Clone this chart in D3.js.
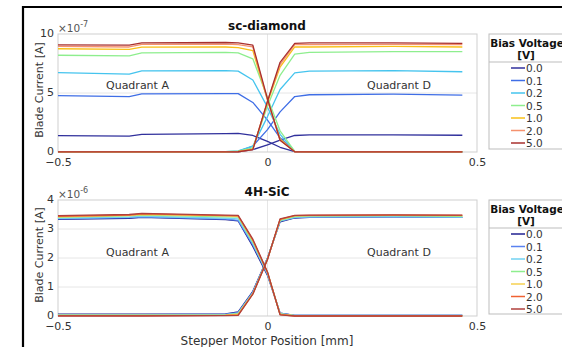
<!DOCTYPE html>
<html>
<head>
<meta charset="utf-8">
<script src="https://cdn.jsdelivr.net/npm/d3@7"></script>
<style>
  body { margin: 0; background: #fff; }
  svg { display: block; font-family: "DejaVu Sans", sans-serif; }
</style>
</head>
<body>
<div id="holder"></div>
<script>
// stepper motor positions [mm]
const positions = [-0.5, -0.33, -0.3, -0.1, -0.07, -0.035, 0, 0.03, 0.065, 0.1, 0.3, 0.465];
const voltages = ["0.0", "0.1", "0.2", "0.5", "1.0", "2.0", "5.0"];

// sc-diamond, units of 1e-7 A
const diamondA = [
  [1.38, 1.35, 1.5, 1.55, 1.58, 1.4, 0.9, 0.4, 0.03, 0.02, 0.02, 0.02],
  [4.77, 4.69, 4.92, 4.95, 4.95, 4.2, 2.7, 1.2, 0.05, 0.03, 0.03, 0.03],
  [6.72, 6.6, 6.88, 6.9, 6.85, 6.1, 3.8, 1.5, 0.05, 0.03, 0.03, 0.03],
  [8.2, 8.15, 8.4, 8.45, 8.4, 7.9, 4.6, 1.8, 0.05, 0.03, 0.03, 0.03],
  [8.75, 8.7, 8.88, 8.9, 8.85, 8.6, 4.4, 1.1, 0.03, 0.02, 0.02, 0.02],
  [8.95, 8.9, 9.12, 9.15, 9.1, 8.9, 4.4, 1.0, 0.02, 0.01, 0.01, 0.01],
  [9.07, 9.05, 9.25, 9.28, 9.25, 9.05, 4.5, 1.0, 0.02, 0.01, 0.01, 0.01]
];
const diamondD = [
  [0.01, 0.01, 0.01, 0.01, 0.02, 0.2, 0.6, 1.0, 1.4, 1.45, 1.45, 1.42],
  [0.01, 0.01, 0.01, 0.02, 0.05, 0.5, 1.9, 3.4, 4.7, 4.85, 4.9, 4.82],
  [0.01, 0.01, 0.01, 0.02, 0.1, 0.5, 3.0, 5.3, 6.7, 6.85, 6.9, 6.8],
  [0.01, 0.01, 0.01, 0.02, 0.08, 0.35, 3.9, 6.5, 8.3, 8.45, 8.5, 8.5],
  [0.01, 0.01, 0.01, 0.01, 0.05, 0.25, 4.2, 7.2, 8.9, 8.9, 8.95, 8.9],
  [0.01, 0.01, 0.01, 0.01, 0.02, 0.2, 4.3, 7.4, 9.1, 9.1, 9.12, 9.1],
  [0.01, 0.01, 0.01, 0.01, 0.02, 0.2, 4.3, 7.6, 9.2, 9.25, 9.25, 9.2]
];

// 4H-SiC, units of 1e-6 A
const sicA = [
  [3.33, 3.37, 3.4, 3.32, 3.28, 2.4, 1.4, 0.1, 0.02, 0.02, 0.02, 0.02],
  [3.35, 3.39, 3.42, 3.34, 3.3, 2.45, 1.45, 0.1, 0.02, 0.02, 0.02, 0.02],
  [3.37, 3.41, 3.44, 3.37, 3.35, 2.5, 1.45, 0.08, 0.02, 0.02, 0.02, 0.02],
  [3.4, 3.45, 3.48, 3.42, 3.41, 2.55, 1.5, 0.07, 0.01, 0.01, 0.01, 0.01],
  [3.42, 3.47, 3.5, 3.45, 3.44, 2.6, 1.5, 0.06, 0.01, 0.01, 0.01, 0.01],
  [3.44, 3.48, 3.52, 3.46, 3.45, 2.62, 1.5, 0.05, 0.0, 0.0, 0.0, 0.0],
  [3.46, 3.5, 3.54, 3.48, 3.47, 2.65, 1.52, 0.04, 0.0, 0.0, 0.0, 0.0]
];
const sicD = [
  [0.06, 0.06, 0.06, 0.07, 0.14, 0.85, 2.0, 3.25, 3.38, 3.4, 3.42, 3.4],
  [0.05, 0.05, 0.05, 0.06, 0.12, 0.82, 2.0, 3.27, 3.39, 3.41, 3.42, 3.4],
  [0.04, 0.04, 0.04, 0.05, 0.1, 0.8, 1.98, 3.28, 3.4, 3.42, 3.43, 3.41],
  [0.03, 0.03, 0.03, 0.04, 0.08, 0.78, 1.97, 3.3, 3.43, 3.45, 3.46, 3.44],
  [0.02, 0.02, 0.02, 0.03, 0.06, 0.77, 1.96, 3.32, 3.45, 3.46, 3.47, 3.46],
  [0.01, 0.01, 0.01, 0.02, 0.04, 0.76, 1.95, 3.33, 3.46, 3.47, 3.48, 3.47],
  [0.0, 0.0, 0.0, 0.01, 0.02, 0.75, 1.95, 3.35, 3.47, 3.48, 3.49, 3.48]
];

const diamondColors = ["#30309c", "#3f6ee6", "#45c4ee", "#8eee8e", "#f8c018", "#f5926e", "#a8302e"];
const sicColors = ["#202090", "#5a82f0", "#72d2f2", "#8eee8e", "#f6d050", "#f06232", "#b0403c"];

const svg = d3.select('#holder').append('svg').attr('width', 562).attr('height', 347);

var x = d3.scaleLinear().domain([-0.5, 0.5]).range([58, 477]);

function drawPanel(cfg) {
  var y = d3.scaleLinear().domain([0, cfg.ymax]).range([cfg.bottom, cfg.top]);
  var g = svg.append('g');

  // grid
  g.selectAll('.hgrid').data(cfg.yticks.slice(1, -1)).enter().append('line')
    .attr('x1', x(-0.5)).attr('x2', x(0.5))
    .attr('y1', d => y(d)).attr('y2', d => y(d))
    .attr('stroke', '#e6e6e6').attr('stroke-width', 1);
  g.append('line')
    .attr('x1', x(0)).attr('x2', x(0))
    .attr('y1', cfg.top).attr('y2', cfg.bottom)
    .attr('stroke', '#e6e6e6').attr('stroke-width', 1);

  // box
  g.append('rect')
    .attr('x', x(-0.5)).attr('y', cfg.top)
    .attr('width', x(0.5) - x(-0.5)).attr('height', cfg.bottom - cfg.top)
    .attr('fill', 'none').attr('stroke', '#cfcfcf').attr('stroke-width', 1);

  // curves
  var line = d3.line().x((d, i) => x(positions[i])).y(d => y(d));
  for (var k = 0; k < voltages.length; k++) {
    [cfg.dataA[k], cfg.dataD[k]].forEach(function(s) {
      g.append('path').datum(s)
        .attr('d', line)
        .attr('fill', 'none')
        .attr('stroke', cfg.colors[k])
        .attr('stroke-width', 1.3)
        .attr('stroke-linejoin', 'round');
    });
  }

  // axes
  var yAxis = d3.axisLeft(y).tickValues(cfg.yticks).tickFormat(d3.format('d')).tickSize(0).tickPadding(4);
  var ya = g.append('g').attr('transform', 'translate(' + x(-0.5) + ',0)').call(yAxis);
  var xAxis = d3.axisBottom(x).tickValues([-0.5, 0, 0.5]).tickFormat(d => d === 0 ? '0' : d3.format('.1f')(d)).tickSize(0).tickPadding(6);
  var xa = g.append('g').attr('transform', 'translate(0,' + cfg.bottom + ')').call(xAxis);
  [ya, xa].forEach(function(a) {
    a.select('.domain').remove();
    a.selectAll('text').attr('fill', '#333').style('font-size', '11px').style('font-family', '"DejaVu Sans", sans-serif');
  });
  ya.selectAll('text').attr('dy', '0.25em');

  // exponent
  var ex = g.append('text').attr('x', x(-0.5)).attr('y', cfg.top - 2)
    .attr('fill', '#555').style('font-size', '10.5px');
  ex.append('tspan').text('\u00d710');
  ex.append('tspan').attr('dy', -5).style('font-size', '8px').text(cfg.exp);

  // title
  g.append('text').attr('x', 267).attr('y', cfg.top - 4)
    .attr('text-anchor', 'middle').attr('font-weight', 'bold')
    .style('font-size', '12px').attr('fill', '#111').text(cfg.title);

  // y label
  g.append('text')
    .attr('transform', 'translate(43,' + ((cfg.top + cfg.bottom) / 2 - 3) + ') rotate(-90)')
    .attr('text-anchor', 'middle').style('font-size', '11px').attr('fill', '#333')
    .text('Blade Current [A]');

  // quadrant labels
  g.append('text').attr('x', 106).attr('y', cfg.quadY).attr('fill', '#333')
    .style('font-size', '11px').text('Quadrant A');
  g.append('text').attr('x', 367).attr('y', cfg.quadY).attr('fill', '#333')
    .style('font-size', '11px').text('Quadrant D');

  // legend
  var lg = svg.append('g').attr('transform', 'translate(489,' + cfg.legTop + ')');
  lg.append('rect').attr('x', 0).attr('y', 0).attr('width', 90).attr('height', cfg.legH)
    .attr('fill', '#fff').attr('stroke', '#bdbdbd').attr('stroke-width', 1);
  lg.append('text').attr('x', 38).attr('y', 13).attr('text-anchor', 'middle')
    .attr('font-weight', 'bold').style('font-size', '10.5px').attr('fill', '#111').text('Bias Voltage');
  lg.append('text').attr('x', 37).attr('y', 25).attr('text-anchor', 'middle')
    .attr('font-weight', 'bold').style('font-size', '10.5px').attr('fill', '#111').text('[V]');
  lg.append('line').attr('x1', 0).attr('x2', 90).attr('y1', 28).attr('y2', 28)
    .attr('stroke', '#bdbdbd');
  var items = lg.selectAll('.item').data(voltages).enter().append('g')
    .attr('transform', (d, i) => 'translate(0,' + (34 + i * 12.5) + ')');
  items.append('line').attr('x1', 22).attr('x2', 36).attr('y1', 0).attr('y2', 0)
    .attr('stroke', (d, i) => cfg.colors[i]).attr('stroke-width', 1.5);
  items.append('text').attr('x', 37).attr('y', 4).style('font-size', '10.5px')
    .attr('fill', '#333').text(d => d);
}

drawPanel({ top: 34, bottom: 152, ymax: 10, yticks: [0, 5, 10], exp: '-7', title: 'sc-diamond',
  dataA: diamondA, dataD: diamondD, colors: diamondColors, quadY: 89, legTop: 34, legH: 115 });
drawPanel({ top: 200, bottom: 316, ymax: 4, yticks: [0, 1, 2, 3, 4], exp: '-6', title: '4H-SiC',
  dataA: sicA, dataD: sicD, colors: sicColors, quadY: 256, legTop: 200, legH: 114 });

svg.append('text').attr('x', 267).attr('y', 345).attr('text-anchor', 'middle')
  .style('font-size', '12px').attr('fill', '#333').text('Stepper Motor Position [mm]');

// black frame
svg.append('line').attr('x1', 22).attr('x2', 562).attr('y1', 7).attr('y2', 7).attr('stroke', '#000').attr('stroke-width', 2.2);
svg.append('line').attr('x1', 23).attr('x2', 23).attr('y1', 6).attr('y2', 347).attr('stroke', '#000').attr('stroke-width', 2.2);
</script>
</body>
</html>
